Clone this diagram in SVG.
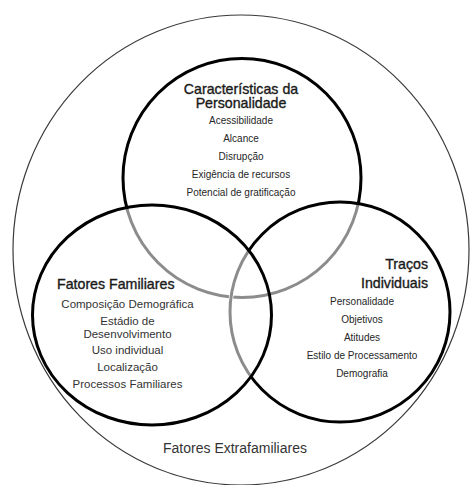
<svg xmlns="http://www.w3.org/2000/svg" width="470" height="485" viewBox="0 0 470 485">
<style>
.ring{fill:none;stroke:#000;stroke-width:3}
.gray{fill:none;stroke:#8c8c8c;stroke-width:3}
.wipe{fill:none;stroke:#fff;stroke-width:4.5}
.outer{fill:none;stroke:#3a3a3a;stroke-width:1.2}
.head{font-family:"Liberation Sans",Arial,sans-serif;font-size:14.2px;fill:#1a1a1a;stroke:#1a1a1a;stroke-width:0.35}
.item{font-family:"Liberation Sans",Arial,sans-serif;font-size:10px;fill:#262626;text-anchor:middle}
.item2{font-family:"Liberation Sans",Arial,sans-serif;font-size:11.5px;fill:#333;text-anchor:middle}
.ext{font-family:"Liberation Sans",Arial,sans-serif;font-size:14px;fill:#333;text-anchor:middle}
</style>
<defs>
<clipPath id="inLR">
<ellipse cx="152" cy="315" rx="119.5" ry="110"/>
<circle cx="340" cy="312" r="110"/>
</clipPath>
<clipPath id="inL">
<ellipse cx="152" cy="315" rx="119.5" ry="110"/>
</clipPath>
</defs>
<rect width="470" height="485" fill="#fff"/>
<g id="extrafamiliares">
<ellipse class="outer" cx="241" cy="250" rx="228" ry="235"/>
<text class="ext" x="235" y="453">Fatores Extrafamiliares</text>
</g>
<g id="caracteristicas">
<ellipse class="ring" cx="242" cy="178" rx="119" ry="119.5"/>
<g clip-path="url(#inLR)">
<ellipse class="wipe" cx="242" cy="178" rx="119" ry="119.5"/>
<ellipse class="gray" cx="242" cy="178" rx="119" ry="119.5"/>
</g>
<text class="head" x="241" y="94" text-anchor="middle">Características da</text>
<text class="head" x="241" y="107.5" text-anchor="middle">Personalidade</text>
<text class="item" x="241" y="124">Acessibilidade</text>
<text class="item" x="241" y="142">Alcance</text>
<text class="item" x="241" y="160">Disrupção</text>
<text class="item" x="241" y="178">Exigência de recursos</text>
<text class="item" x="241" y="196">Potencial de gratificação</text>
</g>
<g id="tracos">
<circle class="ring" cx="340" cy="312" r="110"/>
<g clip-path="url(#inL)">
<circle class="wipe" cx="340" cy="312" r="110"/>
<circle class="gray" cx="340" cy="312" r="110"/>
</g>
<text class="head" x="428" y="269" text-anchor="end">Traços</text>
<text class="head" x="428" y="287.5" text-anchor="end">Individuais</text>
<text class="item" x="362" y="305">Personalidade</text>
<text class="item" x="362" y="323">Objetivos</text>
<text class="item" x="362" y="341">Atitudes</text>
<text class="item" x="362" y="359">Estilo de Processamento</text>
<text class="item" x="362" y="376.5">Demografia</text>
</g>
<g id="familiares">
<ellipse class="ring" cx="152" cy="315" rx="119.5" ry="110"/>
<text class="head" x="57" y="288.5">Fatores Familiares</text>
<text class="item2" x="127.5" y="307.5">Composição Demográfica</text>
<text class="item2" x="127.5" y="324.5">Estádio de</text>
<text class="item2" x="127.5" y="337.5">Desenvolvimento</text>
<text class="item2" x="127.5" y="354">Uso individual</text>
<text class="item2" x="127.5" y="370.5">Localização</text>
<text class="item2" x="127.5" y="387.5">Processos Familiares</text>
</g>
<g id="connectors"/>
</svg>
